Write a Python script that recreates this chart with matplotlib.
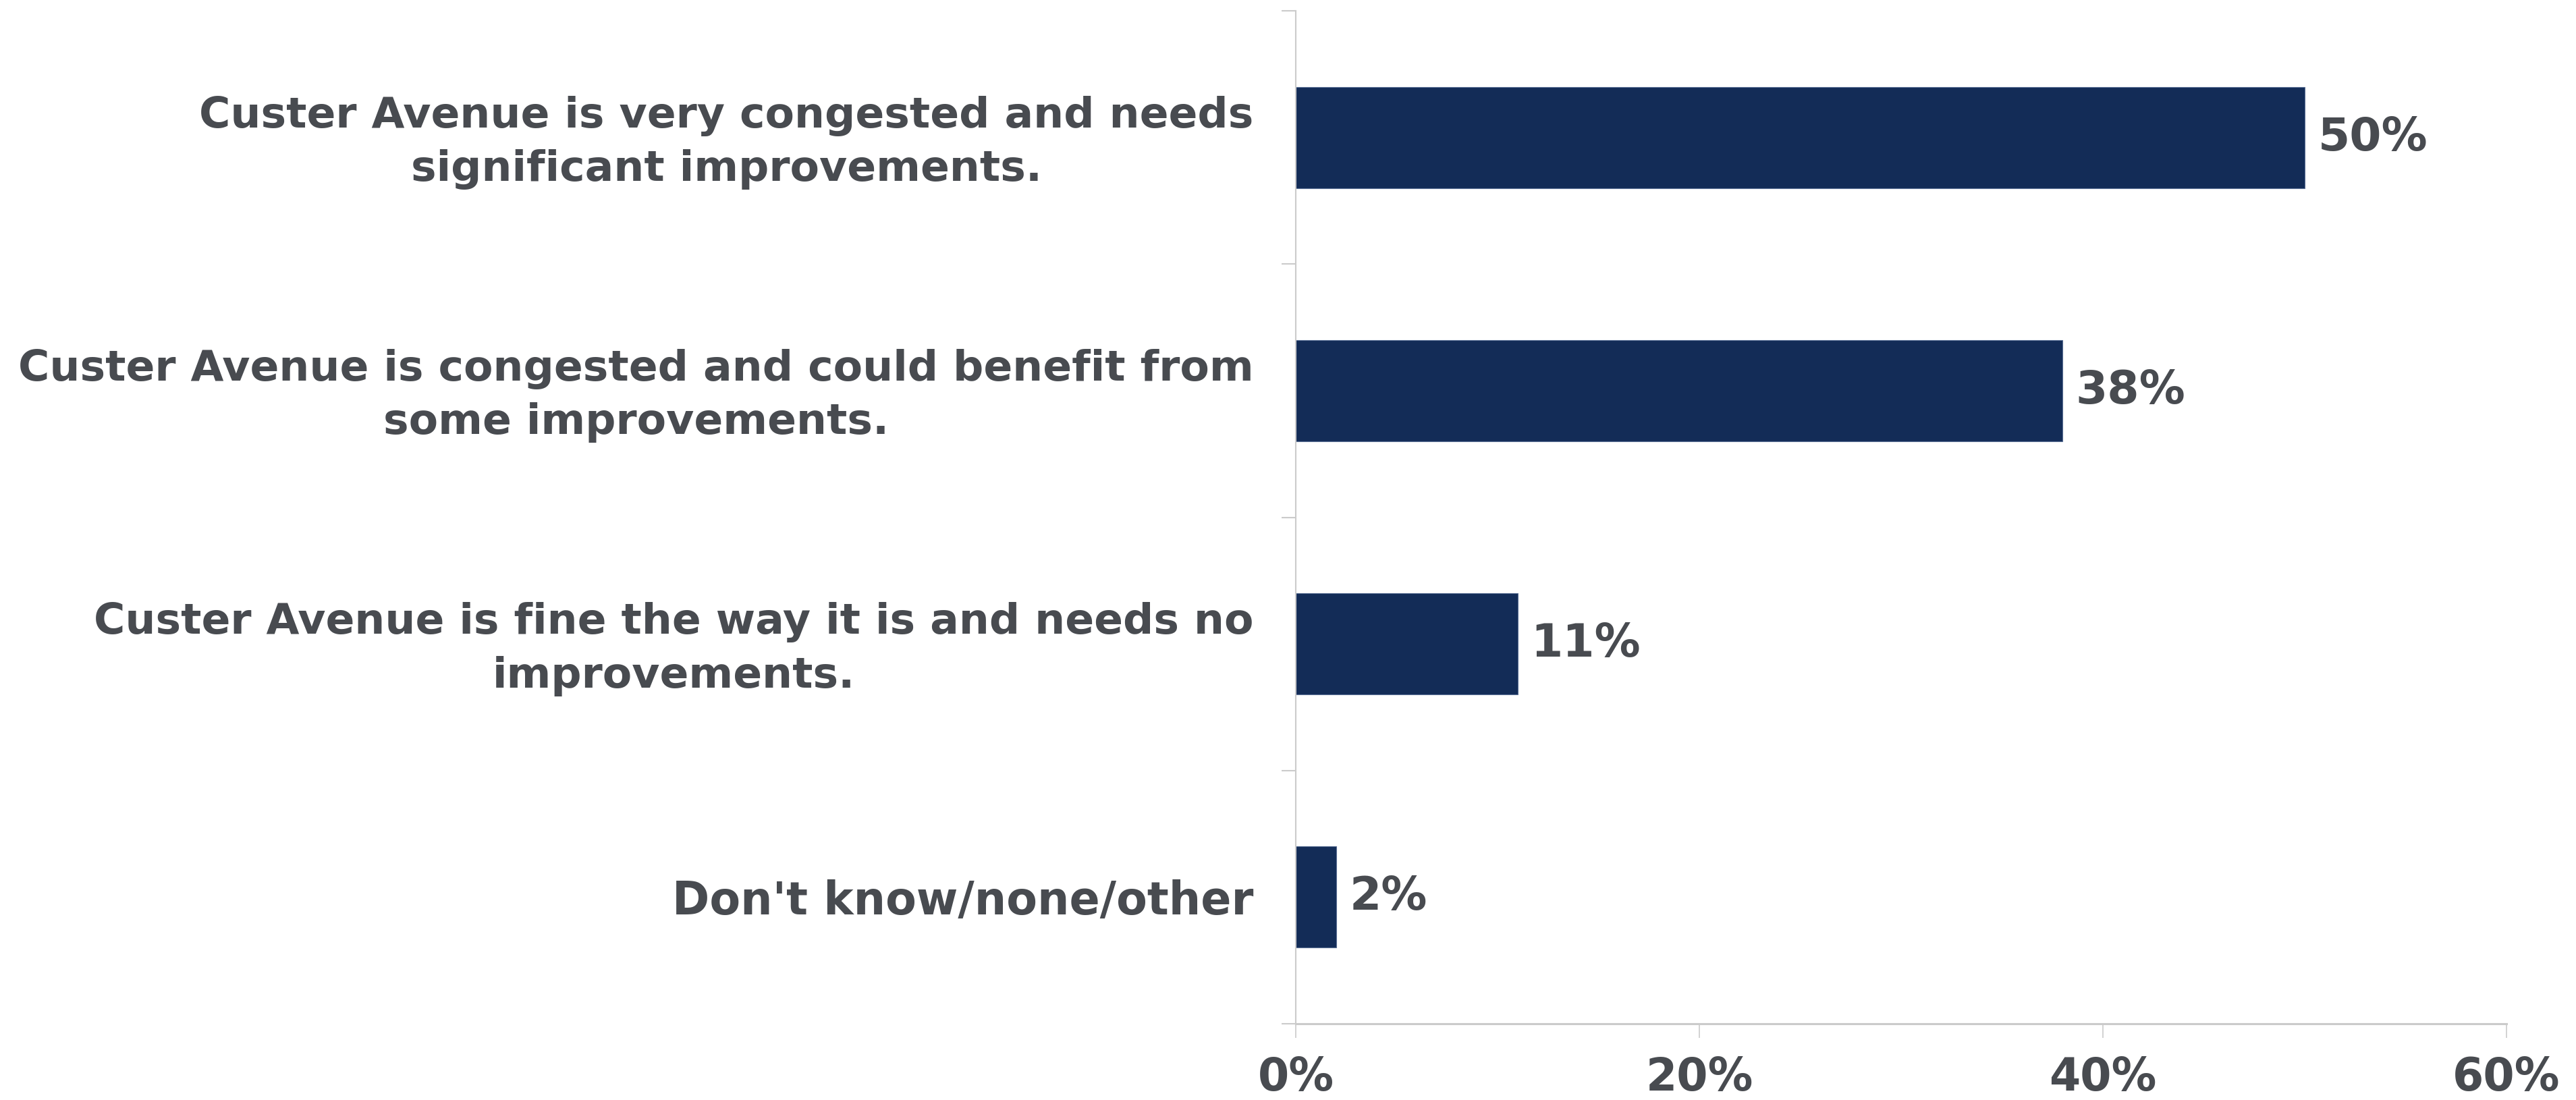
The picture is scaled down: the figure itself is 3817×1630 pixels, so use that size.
import matplotlib
matplotlib.use("Agg")
import matplotlib.pyplot as plt
import matplotlib.transforms as mtransforms
from matplotlib.ticker import FixedLocator, FuncFormatter

categories = [
    "Custer Avenue is very congested and needs\nsignificant improvements.",
    "Custer Avenue is congested and could benefit from\nsome improvements.",
    "Custer Avenue is fine the way it is and needs no\nimprovements.",
    "Don't know/none/other",
]
values = [50, 38, 11, 2]
x_ticks = [0, 20, 40, 60]

bar_color = "#132c57"
text_color = "#484b50"
axis_color = "#cbcbcb"

plt.rcParams['font.family'] = ['DejaVu Sans']

fig = plt.figure(figsize=(38.17, 16.30), dpi=100)
ax = fig.add_axes([0.5030, 0.0693, 0.9730 - 0.5030, 0.9902 - 0.0693])

y_pos = list(range(len(categories)))
bars = ax.barh(y_pos, values, height=0.4, color=bar_color, edgecolor="#5a6f94", linewidth=0.8)

ax.set_ylim(len(categories) - 0.5, -0.5)
ax.set_xlim(0, 60)

# category labels at bar centres, tick marks at category boundaries
ax.set_yticks(y_pos)
ax.set_yticklabels(categories, fontsize=45.5, fontweight="bold", color=text_color,
                   ha="right", multialignment="center", linespacing=1.41)
ax.yaxis.set_minor_locator(FixedLocator([i - 0.5 for i in range(len(categories) + 1)]))
ax.tick_params(axis="y", which="major", length=0, pad=45)
ax.tick_params(axis="y", which="minor", length=15, width=1.5, color=axis_color)

ylabels = ax.get_yticklabels()
# the single-line label is drawn a little wider in the original
ylabels[-1].set_fontsize(48)
# two-line labels sit slightly higher than matplotlib centres them
# (done after tick_params, which resets the label transforms)
nudge = mtransforms.ScaledTranslation(0, 6 / 72, fig.dpi_scale_trans)
for lab in ylabels[:-1]:
    lab.set_transform(lab.get_transform() + nudge)

ax.set_xticks(x_ticks)
ax.xaxis.set_major_formatter(FuncFormatter(lambda v, p: f"{int(v)}%"))
ax.tick_params(axis="x", which="major", length=15, width=1.2, color=axis_color,
               labelsize=48, labelcolor=text_color, pad=19)
for lab in ax.get_xticklabels():
    lab.set_fontweight("bold")

for side in ["top", "right"]:
    ax.spines[side].set_visible(False)
ax.spines["left"].set_color(axis_color)
ax.spines["left"].set_linewidth(1.5)
ax.spines["bottom"].set_color(axis_color)
ax.spines["bottom"].set_linewidth(2.2)

for bar, v in zip(bars, values):
    ax.annotate(f"{v}%", xy=(bar.get_width(), bar.get_y() + bar.get_height() / 2),
                xytext=(14, 0), textcoords="offset points", va="center", ha="left",
                fontsize=49, fontweight="bold", color=text_color)

fig.savefig("out.png", dpi=100, facecolor="white")
